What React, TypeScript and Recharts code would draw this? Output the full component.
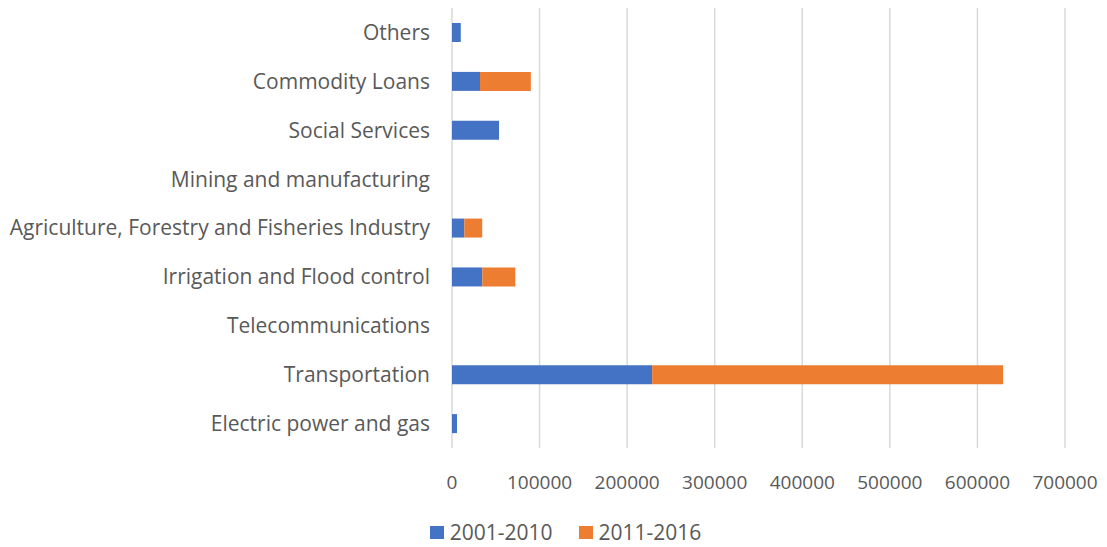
import { BarChart, Bar, XAxis, YAxis, CartesianGrid } from 'recharts';

document.body.style.margin = '0';

const sectors = [
  'Others',
  'Commodity Loans',
  'Social Services',
  'Mining and manufacturing',
  'Agriculture, Forestry and Fisheries Industry',
  'Irrigation and Flood control',
  'Telecommunications',
  'Transportation',
  'Electric power and gas',
];
const period1 = [10000, 32000, 53700, 0, 14000, 34600, 0, 228500, 5700];
const period2 = [0, 58000, 0, 0, 20500, 37700, 0, 400800, 0];
const xTicks = [0, 100000, 200000, 300000, 400000, 500000, 600000, 700000];

const BLUE = '#4472C4';
const ORANGE = '#ED7D31';
const TEXT = '#595959';
const FONT = '"Open Sans", "Noto Sans", sans-serif';

const data = sectors.map((name, i) => ({ name, p1: period1[i], p2: period2[i] }));

const legendItems = [
  { label: '2001-2010', color: BLUE },
  { label: '2011-2016', color: ORANGE },
];

export default function App() {
  return (
    <div style={{ width: 1107, height: 547, background: '#fff', position: 'relative' }}>
      <BarChart
        width={1107}
        height={547}
        data={data}
        layout="vertical"
        margin={{ top: 8, right: 42, bottom: 0, left: 0 }}
        barSize={19}
      >
        <CartesianGrid horizontal={false} stroke="#d9d9d9" strokeWidth={1.5} />
        <XAxis
          type="number"
          domain={[0, 700000]}
          ticks={xTicks}
          interval={0}
          axisLine={false}
          tickLine={false}
          tickSize={0}
          tickMargin={28}
          height={99}
          tick={{ fontSize: 19, fill: TEXT, fontFamily: FONT }}
        />
        <YAxis
          type="category"
          dataKey="name"
          width={452}
          axisLine={false}
          tickLine={false}
          tickSize={0}
          tickMargin={22}
          interval={0}
          tick={{ fontSize: 21, fill: TEXT, fontFamily: FONT }}
        />
        <Bar dataKey="p1" stackId="a" fill={BLUE} isAnimationActive={false} />
        <Bar dataKey="p2" stackId="a" fill={ORANGE} isAnimationActive={false} />
      </BarChart>
      {/* legend sits a little right of centre, like the original */}
      <div
        style={{
          position: 'absolute',
          top: 518,
          left: 12,
          width: 1107,
          display: 'flex',
          justifyContent: 'center',
          gap: 26,
          fontFamily: FONT,
          fontSize: 21,
          color: TEXT,
          lineHeight: '28px',
        }}
      >
        {legendItems.map((it) => (
          <div key={it.label} style={{ display: 'flex', alignItems: 'center', gap: 6 }}>
            <span style={{ width: 14, height: 13, background: it.color, display: 'inline-block' }} />
            <span>{it.label}</span>
          </div>
        ))}
      </div>
    </div>
  );
}
